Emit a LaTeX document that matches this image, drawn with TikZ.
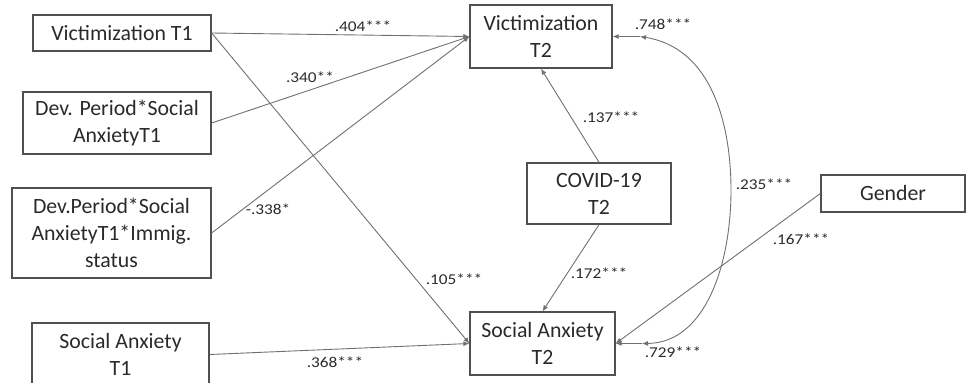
\documentclass[tikz,border=0pt]{standalone}
\usepackage{fontspec}
\setmainfont{Carlito}
\usetikzlibrary{arrows.meta}
\definecolor{boxline}{HTML}{505050}
\definecolor{arrline}{HTML}{707070}
\definecolor{txt}{HTML}{2A2A2A}
\newcommand\lbl[1]{\scalebox{1.15}[1]{#1}}
\begin{document}
\begin{tikzpicture}[x=1pt,y=-1pt,
  varbox/.style={draw=boxline,line width=1.3pt,rectangle,inner sep=0pt,align=center,
    text=txt,font=\fontsize{21.8}{27}\selectfont},
  conn/.style={draw=arrline,line width=0.9pt,-{Latex[length=6pt,width=5pt]}},
  coef/.style={inner sep=0pt,text=txt,font=\fontsize{15}{17}\selectfont}]
\useasboundingbox (0,0) rectangle (967,383);
\begin{scope}
\clip (0,0) rectangle (967,383);
\node[varbox,minimum width=178pt,minimum height=36pt] (v1) at (122,33) {Victimization T1};
\node[varbox,minimum width=188pt,minimum height=62pt] (dp) at (117,123) {Dev. Period*Social\\AnxietyT1};
\node[varbox,minimum width=199pt,minimum height=90pt] (dpi) at (111.5,233) {Dev.Period*Social\\AnxietyT1*Immig.\\status};
\node[varbox,minimum width=177pt,minimum height=63pt] (sa1) at (120.5,354.5) {Social Anxiety\\T1};
\node[varbox,minimum width=142pt,minimum height=63pt] (v2) at (541,36.5) {Victimization\\T2};
\node[varbox,minimum width=144pt,minimum height=61pt] (cov) at (599,193.5) {COVID-19\\T2};
\node[varbox,minimum width=144pt,minimum height=37pt] (gen) at (893,193.5) {Gender};
\node[varbox,minimum width=145pt,minimum height=63pt] (sa2) at (542.5,343.5) {Social Anxiety\\T2};
\end{scope}
\coordinate (r1) at (640,36.5);
\coordinate (r2) at (642,343.5);
\draw[conn] (v1.east) -- (v2.west);
\draw[conn] (dp.east) -- (v2.west);
\draw[conn] (dpi.east) -- (v2.west);
\draw[conn] (v1.east) -- (sa2.west);
\draw[conn] (sa1.east) -- (sa2.west);
\draw[conn] (cov.north) -- (v2.south);
\draw[conn] (cov.south) -- (sa2.north);
\draw[conn] (gen.west) -- (sa2.east);
\draw[conn] (r1) -- (v2.east);
\draw[conn] (r2) -- (sa2.east);
\draw[draw=arrline,line width=0.9pt,{Latex[length=6pt,width=5pt]}-{Latex[length=6pt,width=5pt]}]
  (r1) .. controls (712,48) and (731,125) .. (731,190)
       .. controls (731,265) and (705,343) .. (r2);
\node[coef] (l1) at (363,26) {\lbl{.404***}};
\node[coef] (l2) at (310,77) {\lbl{.340**}};
\node[coef] (l3) at (268,209) {\lbl{-.338*}};
\node[coef] (l4) at (454,279) {\lbl{.105***}};
\node[coef] (l5) at (335,362) {\lbl{.368***}};
\node[coef] (l6) at (611,117) {\lbl{.137***}};
\node[coef] (l7) at (599,273) {\lbl{.172***}};
\node[coef] (l8) at (801,239) {\lbl{.167***}};
\node[coef] (l9) at (764,184) {\lbl{.235***}};
\node[coef] (l10) at (663,24) {\lbl{.748***}};
\node[coef] (l11) at (673,352) {\lbl{.729***}};
\end{tikzpicture}
\end{document}
